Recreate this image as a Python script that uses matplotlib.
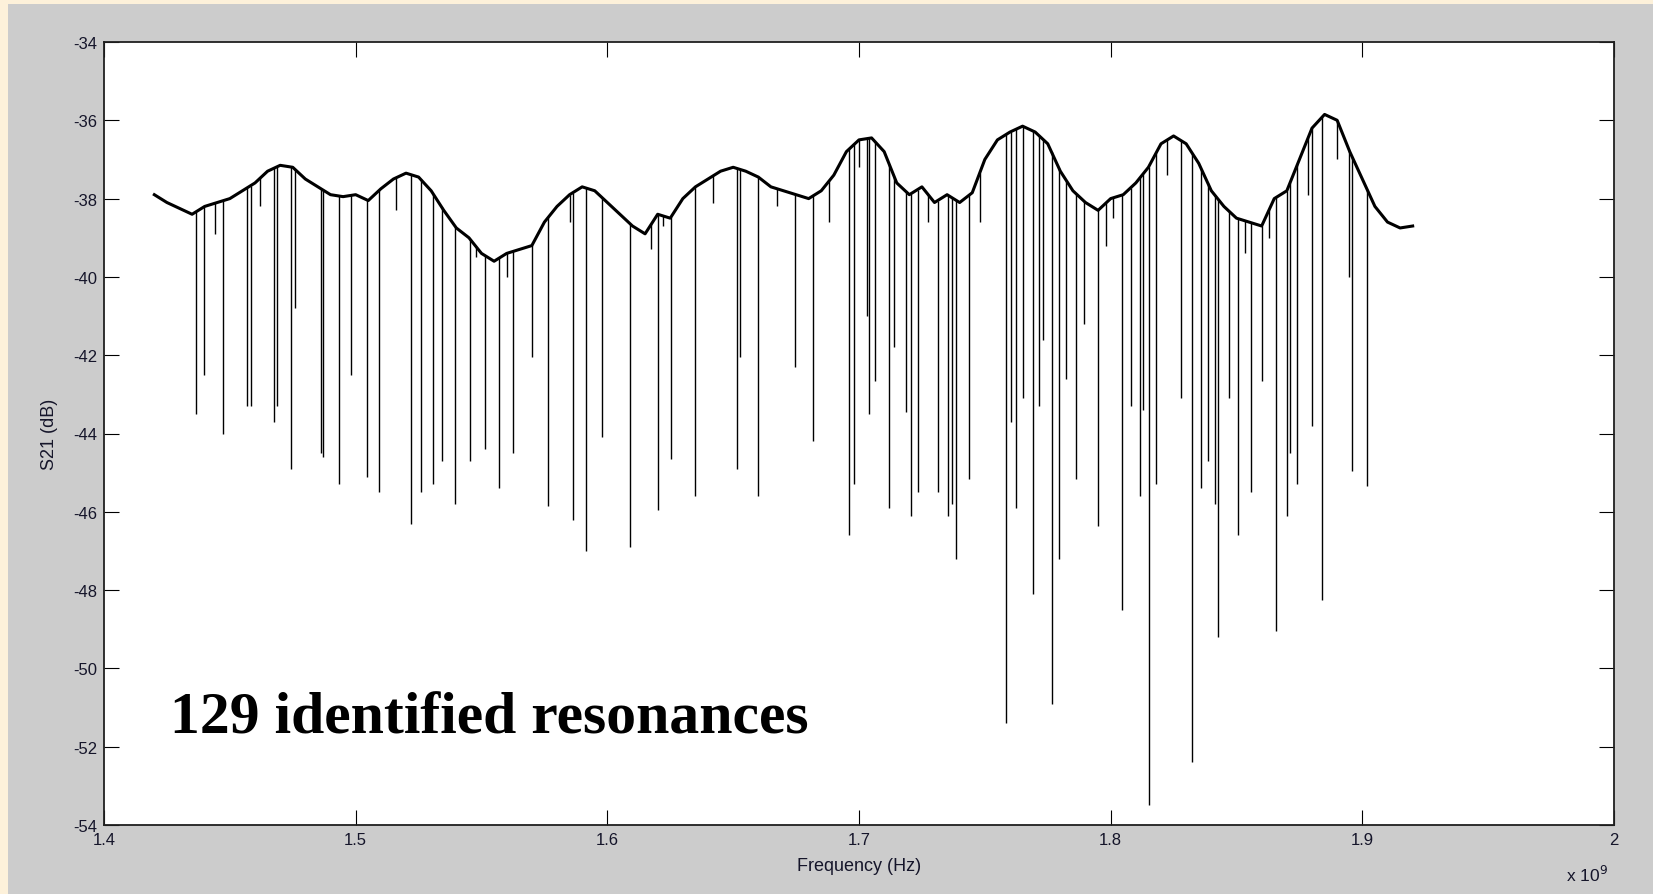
import numpy as np
import matplotlib
matplotlib.use("Agg")
import matplotlib.pyplot as plt

# ---- data (frequency in GHz, S21 in dB) ----
base_f = [1.420, 1.425, 1.430, 1.435, 1.440, 1.445, 1.450, 1.455, 1.460, 1.465,
          1.470, 1.475, 1.480, 1.485, 1.490, 1.495, 1.500, 1.505, 1.510, 1.515,
          1.520, 1.525, 1.530, 1.535, 1.540, 1.545, 1.550, 1.555, 1.560, 1.565,
          1.570, 1.575, 1.580, 1.585, 1.590, 1.595, 1.600, 1.605, 1.610, 1.615,
          1.620, 1.625, 1.630, 1.635, 1.640, 1.645, 1.650, 1.655, 1.660, 1.665,
          1.670, 1.675, 1.680, 1.685, 1.690, 1.695, 1.700, 1.705, 1.710, 1.715,
          1.720, 1.725, 1.730, 1.735, 1.740, 1.745, 1.750, 1.755, 1.760, 1.765,
          1.770, 1.775, 1.780, 1.785, 1.790, 1.795, 1.800, 1.805, 1.810, 1.815,
          1.820, 1.825, 1.830, 1.835, 1.840, 1.845, 1.850, 1.855, 1.860, 1.865,
          1.870, 1.875, 1.880, 1.885, 1.890, 1.895, 1.900, 1.905, 1.910, 1.915,
          1.920]
base_db = [-37.90, -38.10, -38.25, -38.40, -38.20, -38.10, -38.00, -37.80, -37.60, -37.30,
           -37.15, -37.20, -37.50, -37.70, -37.90, -37.95, -37.90, -38.05, -37.75, -37.50,
           -37.35, -37.45, -37.80, -38.30, -38.75, -39.00, -39.40, -39.60, -39.40, -39.30,
           -39.20, -38.60, -38.20, -37.90, -37.70, -37.80, -38.10, -38.40, -38.70, -38.90,
           -38.40, -38.50, -38.00, -37.70, -37.50, -37.30, -37.20, -37.30, -37.45, -37.70,
           -37.80, -37.90, -38.00, -37.80, -37.40, -36.80, -36.50, -36.45, -36.80, -37.60,
           -37.90, -37.70, -38.10, -37.90, -38.10, -37.85, -37.00, -36.50, -36.30, -36.15,
           -36.30, -36.60, -37.30, -37.80, -38.10, -38.30, -38.00, -37.90, -37.60, -37.20,
           -36.60, -36.40, -36.60, -37.10, -37.80, -38.20, -38.50, -38.60, -38.70, -38.00,
           -37.80, -37.00, -36.20, -35.85, -36.00, -36.80, -37.50, -38.20, -38.60, -38.75,
           -38.70]

dip_f = [1.4365, 1.4398, 1.4474, 1.4570, 1.4583, 1.4675, 1.4688, 1.4742, 1.4759, 1.4864,
         1.4872, 1.4935, 1.4981, 1.5044, 1.5094, 1.5220, 1.5258, 1.5308, 1.5342, 1.5396,
         1.5455, 1.5514, 1.5568, 1.5627, 1.5702, 1.5765, 1.5862, 1.5916, 1.5979, 1.6092,
         1.6201, 1.6252, 1.6348, 1.6516, 1.6528, 1.6600, 1.6746, 1.6818, 1.6960, 1.6981,
         1.7031, 1.7040, 1.7065, 1.7120, 1.7140, 1.7187, 1.7207, 1.7233, 1.7312, 1.7354,
         1.7370, 1.7384, 1.7438, 1.7585, 1.7602, 1.7623, 1.7652, 1.7690, 1.7715, 1.7732,
         1.7765, 1.7795, 1.7824, 1.7862, 1.7895, 1.7950, 1.8046, 1.8080, 1.8117, 1.8130,
         1.8151, 1.8180, 1.8281, 1.8323, 1.8360, 1.8386, 1.8415, 1.8428, 1.8470, 1.8507,
         1.8558, 1.8600, 1.8658, 1.8700, 1.8713, 1.8742, 1.8801, 1.8839, 1.8948, 1.8960,
         1.9019,
         1.4440, 1.4620, 1.5160, 1.5480, 1.5600, 1.5850, 1.6175, 1.6220, 1.6420, 1.6675,
         1.6880, 1.7000, 1.7275, 1.7480, 1.7980, 1.8010, 1.8222, 1.8533, 1.8630, 1.8784,
         1.8901]
dip_db = [-43.5, -42.5, -44.0, -43.3, -43.3, -43.7, -43.3, -44.9, -40.8, -44.5,
          -44.6, -45.3, -42.5, -45.1, -45.5, -46.3, -45.5, -45.3, -44.7, -45.8,
          -44.7, -44.4, -45.4, -44.5, -42.05, -45.85, -46.2, -47.0, -44.1, -46.9,
          -45.95, -44.65, -45.6, -44.9, -42.05, -45.6, -42.3, -44.2, -46.6, -45.3,
          -41.0, -43.5, -42.65, -45.9, -41.8, -43.45, -46.1, -45.5, -45.5, -46.1,
          -45.8, -47.2, -45.15, -51.4, -43.7, -45.9, -43.1, -48.1, -43.3, -41.6,
          -50.9, -47.2, -42.6, -45.15, -41.2, -46.35, -48.5, -43.3, -45.6, -43.4,
          -53.5, -45.3, -43.1, -52.4, -45.4, -44.7, -45.8, -49.2, -43.1, -46.6,
          -45.5, -42.65, -49.05, -46.1, -44.5, -45.3, -43.8, -48.25, -40.0, -44.95,
          -45.33,
          -38.9, -38.2, -38.3, -39.5, -40.0, -38.6, -39.3, -38.7, -38.1, -38.2,
          -38.6, -37.2, -38.6, -38.6, -39.2, -38.5, -37.4, -39.4, -39.0, -37.9,
          -37.0]

x_ticks = [1.4, 1.5, 1.6, 1.7, 1.8, 1.9, 2.0]
x_labels = ["1.4", "1.5", "1.6", "1.7", "1.8", "1.9", "2"]
y_ticks = list(range(-54, -33, 2))
y_labels = [str(v) for v in y_ticks]

# ---- figure ----
W, H = 1653, 895
fig = plt.figure(figsize=(W / 100, H / 100), dpi=100)
fig.patch.set_facecolor("#fdf1da")
bg = fig.add_axes([8 / W, 0, 1 - 8 / W, 1 - 5 / H], zorder=-10)
bg.set_facecolor("#cccccc")
bg.set_xticks([])
bg.set_yticks([])
for s in bg.spines.values():
    s.set_visible(False)

ax = fig.add_axes([104 / W, 1 - 826 / H, (1614 - 104) / W, (826 - 43) / H], zorder=1)
ax.set_facecolor("white")

bf = np.array(base_f)
bd = np.array(base_db)
df = np.array(dip_f)
dd = np.array(dip_db)
top = np.interp(df, bf, bd)

ax.plot(bf, bd, color="black", lw=2.2, solid_joinstyle="round")
ax.vlines(df, top, dd, color="black", lw=1.0)

ax.set_xlim(1.4, 2.0)
ax.set_ylim(-54, -34)
ax.set_xticks(x_ticks)
ax.set_xticklabels(x_labels)
ax.set_yticks(y_ticks)
ax.set_yticklabels(y_labels)
ax.tick_params(direction="in", length=10.5, width=0.8, top=True, right=True,
               labelsize=12, labelcolor="#15152a", pad=5)
for lab in ax.get_xticklabels() + ax.get_yticklabels():
    lab.set_fontfamily("Liberation Sans")
for s in ax.spines.values():
    s.set_linewidth(1.3)
    s.set_color("#202020")

ax.set_xlabel("Frequency (Hz)", fontsize=13, family="Liberation Sans", color="#15152a")
ax.set_ylabel("S21 (dB)", fontsize=13, family="Liberation Sans", color="#15152a")
ax.xaxis.set_label_coords(0.5, (826 - 858) / 783)
ax.yaxis.set_label_coords((58 - 104) / 1510, 0.5)

fig.text(1587 / W, 1 - 875 / H, r"x 10$^{9}$", fontsize=12.5, family="Liberation Sans",
         ha="center", va="center", color="#15152a")

ax.text(1.4262, -51.65, "129 identified resonances", fontsize=43, fontweight="bold",
        family="Liberation Serif", ha="left", va="baseline", color="black")

fig.savefig("out.png", dpi=100, facecolor=fig.get_facecolor())
